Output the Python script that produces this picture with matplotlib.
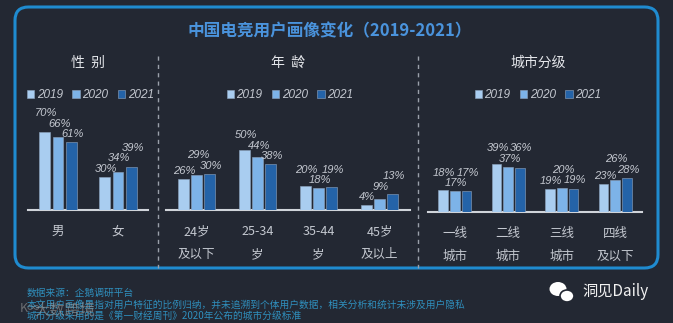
import matplotlib
matplotlib.use("Agg")
import matplotlib.pyplot as plt
from matplotlib.patches import FancyBboxPatch, Ellipse
import numpy as np

plt.rcParams['font.family'] = ['Noto Sans CJK SC', 'DejaVu Sans']

# ---------------- data ----------------
years = ["2019", "2020", "2021"]
gender_cats = ["男", "女"]
gender_vals = [[70, 30], [66, 34], [61, 39]]
age_cats = ["24岁\n及以下", "25-34\n岁", "35-44\n岁", "45岁\n及以上"]
age_vals = [[26, 50, 20, 4], [29, 44, 18, 9], [30, 38, 19, 13]]
city_cats = ["一线\n城市", "二线\n城市", "三线\n城市", "四线\n及以下"]
city_vals = [[18, 39, 19, 23], [17, 37, 20, 26], [17, 36, 19, 28]]
section_titles = ["性  别", "年  龄", "城市分级"]
title = "中国电竞用户画像变化（2019-2021）"
footer = ["数据来源：企鹅调研平台",
          "本文用户画像是指对用户特征的比例归纳，并未追溯到个体用户数据，相关分析和统计未涉及用户隐私",
          "城市分级采用的是《第一财经周刊》2020年公布的城市分级标准"]

colors = ["#a9cdf0", "#7db3e8", "#2463a8"]
BG = "#232833"
TXT = "#c4c8d0"
LAT = ['Liberation Sans', 'DejaVu Sans']

W, H = 673, 323
fig = plt.figure(figsize=(W / 100, H / 100), dpi=100, facecolor=BG)

def fx(px):
    return px / W

def fy(py):
    return (H - py) / H


def label_offsets(group_vals, scale, gap=11.0, h=10.5, clear=8.0):
    """Simple overlap avoidance for the three value labels of one group (pixels)."""
    tops = [v * scale for v in group_vals]
    y = [t + gap for t in tops]
    for _ in range(20):
        for j in range(1, len(y)):
            d = y[j] - y[j - 1]
            if abs(d) < h:
                need = h - abs(d)
                sgn = 1 if (d > 0 or (d == 0 and group_vals[j] >= group_vals[j - 1])) else -1
                y[j] += sgn * need / 2
                y[j - 1] -= sgn * need / 2
        for j in range(len(y)):
            y[j] = max(y[j], tops[j] + clear)
    return [yy - t for yy, t in zip(y, tops)]


# border
box = FancyBboxPatch((fx(15), fy(268)), fx(643), (268 - 7) / H,
                     boxstyle="round,pad=0,rounding_size=0.02",
                     transform=fig.transFigure, facecolor="none",
                     edgecolor="#1f8bd0", linewidth=2.2, mutation_aspect=W / H)
fig.patches.append(box)

fig.text(fx(330), fy(31), title, ha="center", va="center", fontsize=12,
         fontweight="bold", color="#4a93dc", style="italic")

# dividers
for xd in (158, 418):
    fig.add_artist(plt.Line2D([fx(xd), fx(xd)], [fy(56), fy(268)],
                              transform=fig.transFigure, color="#9aa0aa",
                              linewidth=1, linestyle=(0, (3, 3))))

panels = [
    (gender_cats, gender_vals, 28, 148, 210, 1.11, 88, 90.5),
    (age_cats, age_vals, 166, 410, 210, 1.21, 288, 290),
    (city_cats, city_vals, 428, 642, 212, 1.22, 538, 538),
]

step = 0.22
width = 0.18
for i, (cats, vals, x0, x1, base, scale, hx, lx) in enumerate(panels):
    hpx = 111
    ax = fig.add_axes([fx(x0), fy(base), fx(x1 - x0), hpx / H])
    ax.set_facecolor("none")
    x = np.arange(len(cats))
    handles = []
    for j, yr in enumerate(years):
        b = ax.bar(x + (j - 1) * step, vals[j], width, color=colors[j],
                   edgecolor="#8fa6c0", linewidth=0.4, label=yr, zorder=3)
        handles.append(b)
    for g in range(len(cats)):
        gv = [vals[j][g] for j in range(len(years))]
        offs = label_offsets(gv, scale)
        for j, (v, o) in enumerate(zip(gv, offs)):
            ax.annotate(f"{v}%", (g + (j - 1) * step, v), xytext=(1, o * 0.72),
                        textcoords="offset points",
                        ha="center", va="center", fontsize=8, color=TXT,
                        style="italic", family=LAT)
    ax.set_xlim(-0.5, len(cats) - 0.5)
    ax.set_ylim(0, hpx / scale)
    ax.set_yticks([])
    for s in ("top", "left", "right"):
        ax.spines[s].set_visible(False)
    ax.spines["bottom"].set_color("#d0d4da")
    ax.spines["bottom"].set_linewidth(1.5)
    ax.set_xticks(x)
    ax.set_xticklabels(cats, fontsize=9, color=TXT, linespacing=2.0)
    ax.tick_params(axis="x", length=0, pad=11)
    fig.text(fx(hx), fy(63), section_titles[i], ha="center", va="center",
             fontsize=10, color="#e4e6ea")
    leg = ax.legend(handles=handles, loc="center", bbox_to_anchor=(fx(lx), fy(95)),
                    bbox_transform=fig.transFigure, ncol=3, frameon=False,
                    handlelength=0.6, handleheight=0.6, handletextpad=0.25,
                    columnspacing=0.8,
                    prop={"style": "italic", "size": 8.5, "family": LAT})
    for t in leg.get_texts():
        t.set_color(TXT)

# footer
for k, line in enumerate(footer):
    fig.text(fx(27), fy(293 + k * 11.5), line, ha="left", va="center",
             fontsize=7, color="#2f8fbd")
fig.text(fx(34), fy(310), "大数跨境", ha="left", va="center", fontsize=11,
         color="#9a9a9a", alpha=0.6)
fig.text(fx(20), fy(308), "K∞", ha="left", va="center", fontsize=9,
         color="#9a9a9a", alpha=0.6)

# wechat-like icon and account name
e1 = Ellipse((fx(558), fy(289)), fx(17), 14 / H, transform=fig.transFigure,
             facecolor="white", edgecolor="none")
e2 = Ellipse((fx(567), fy(296)), fx(14), 12 / H, transform=fig.transFigure,
             facecolor="white", edgecolor=BG, linewidth=1.2)
fig.patches.extend([e1, e2])
fig.text(fx(582), fy(292), "洞见Daily", ha="left", va="center", fontsize=11,
         color="#f2f2f2")

fig.savefig("out.png", dpi=100, facecolor=BG)
